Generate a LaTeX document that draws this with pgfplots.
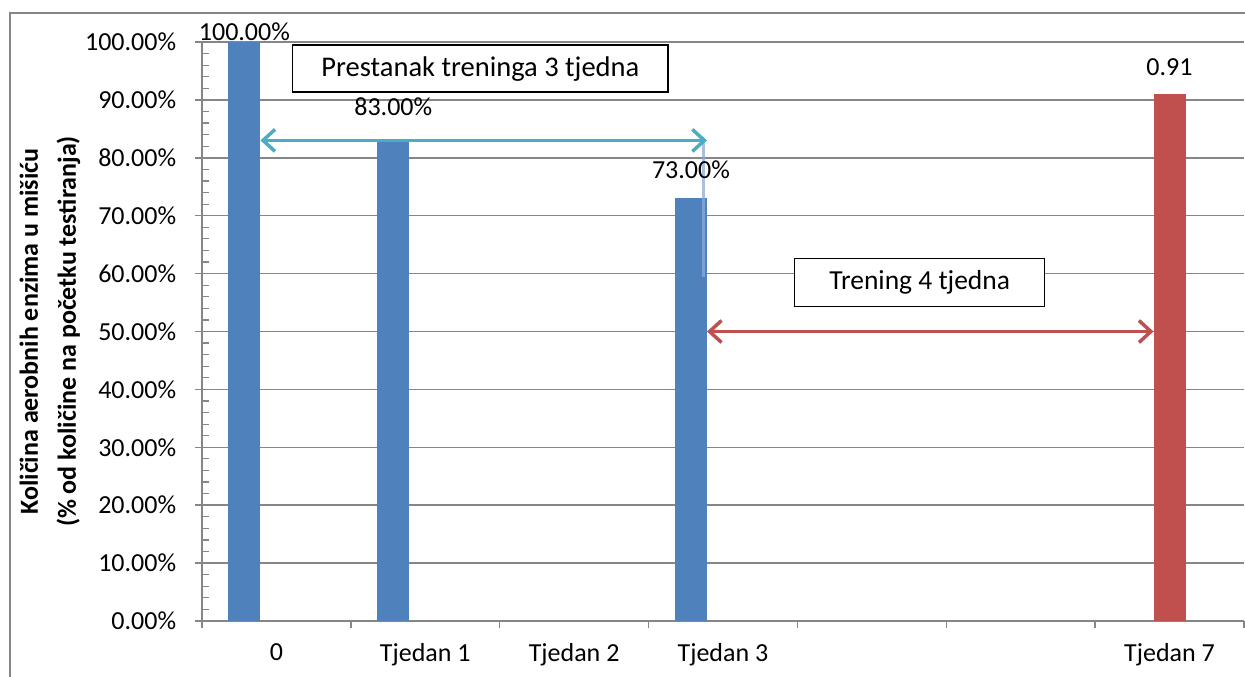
\documentclass[border=0pt]{standalone}
\usepackage{fontspec}
\setmainfont{Carlito}
\usepackage{pgfplots}
\pgfplotsset{compat=1.18}
\usetikzlibrary{arrows.meta}

\definecolor{barblue}{HTML}{4F81BD}
\definecolor{barred}{HTML}{C0504D}
\definecolor{arrteal}{HTML}{4BACC6}
\definecolor{gridgray}{HTML}{868686}
\definecolor{lightline}{HTML}{8DAAD8}

\begin{document}
\fontsize{26}{30}\selectfont
\begin{tikzpicture}[x=1pt,y=1pt]
\useasboundingbox (-202,-56) rectangle (1043,621);
% outer chart frame
\draw[gridgray,line width=1.5pt] (-192,-80) -- (-192,608) -- (1070,608);
\begin{axis}[
    at={(0,0)}, anchor=south west,
    scale only axis, width=1042pt, height=579pt,
    clip=false,
    bar width=32pt,
    xmin=-0.5, xmax=6.5,
    ymin=0, ymax=100,
    axis x line*=bottom, axis y line*=left,
    axis line style={gridgray, line width=1.5pt},
    xtick={0,...,6},
    xticklabels={0,Tjedan 1,Tjedan 2,Tjedan 3,,,Tjedan 7},
    minor xtick={-0.5,0.5,...,6.5},
    major x tick style={draw=none},
    minor x tick style={gridgray, line width=1.5pt, yshift=-7pt},
    ytick={0,10,...,100},
    minor y tick num=4,
    tick align=inside,
    major tick length=7pt, minor tick length=7pt,
    major y tick style={gridgray, line width=1.5pt, xshift=-7pt},
    minor y tick style={gridgray, line width=1.2pt},
    ymajorgrids,
    major grid style={gridgray, line width=1.5pt},
    /pgf/number format/assume math mode=true,
    yticklabel={\pgfmathprintnumber[fixed,fixed zerofill,precision=2]{\tick}\%},
    tick label style={font=\fontsize{26}{30}\selectfont},
    yticklabel style={xshift=-17pt},
    xticklabel style={yshift=-14pt},
    ylabel={Količina aerobnih enzima u mišiću\\(\% od količine na početku testiranja)},
    ylabel style={at={(axis description cs:-0.146,0.5)}, anchor=center,
        align=center, font=\fontsize{26}{38}\selectfont\bfseries},
    point meta=explicit symbolic,
    nodes near coords,
    nodes near coords style={anchor=south, font=\fontsize{26}{30}\selectfont},
]
% bars
\addplot[ybar, bar shift=0pt, fill=barblue, draw=none,
    nodes near coords style={yshift=-8pt}]
    coordinates {(-0.215,100) [100.00\%]};
\addplot[ybar, bar shift=0pt, fill=barblue, draw=none,
    nodes near coords style={yshift=16pt}]
    coordinates {(0.785,83) [83.00\%]};
\addplot[ybar, bar shift=0pt, fill=barblue, draw=none,
    nodes near coords style={yshift=11pt}]
    coordinates {(2.785,73) [73.00\%]};
\addplot[ybar, bar shift=0pt, fill=barred, draw=none,
    nodes near coords style={yshift=10pt}]
    coordinates {(6,91) [0.91]};

% annotation lines
\addplot[sharp plot, no marks, nodes near coords=, draw=lightline, opacity=0.75, line width=3pt]
    coordinates {(2.871,83.1) (2.871,59.4)};
\addplot[sharp plot, no marks, nodes near coords=, draw=arrteal, line width=3.5pt,
    {Straight Barb[length=12pt,width=22pt]}-{Straight Barb[length=12pt,width=22pt]}]
    coordinates {(-0.1075,83) (2.8925,83)};
\addplot[sharp plot, no marks, nodes near coords=, draw=barred, line width=3.5pt,
    {Straight Barb[length=12pt,width=22pt]}-{Straight Barb[length=12pt,width=22pt]}]
    coordinates {(2.8925,50) (5.8925,50)};

\node[draw=black, line width=1.3pt, fill=white, minimum width=375pt, minimum height=47pt,
    font=\fontsize{28.5}{32}\selectfont]
    at (axis cs:1.37,95.4) {Prestanak treninga 3 tjedna};
\node[draw=black, line width=1.3pt, fill=white, minimum width=250pt, minimum height=48pt,
    font=\fontsize{27.5}{32}\selectfont]
    at (axis cs:4.322,58.5) {Trening 4 tjedna};
\end{axis}
\end{tikzpicture}
\end{document}
